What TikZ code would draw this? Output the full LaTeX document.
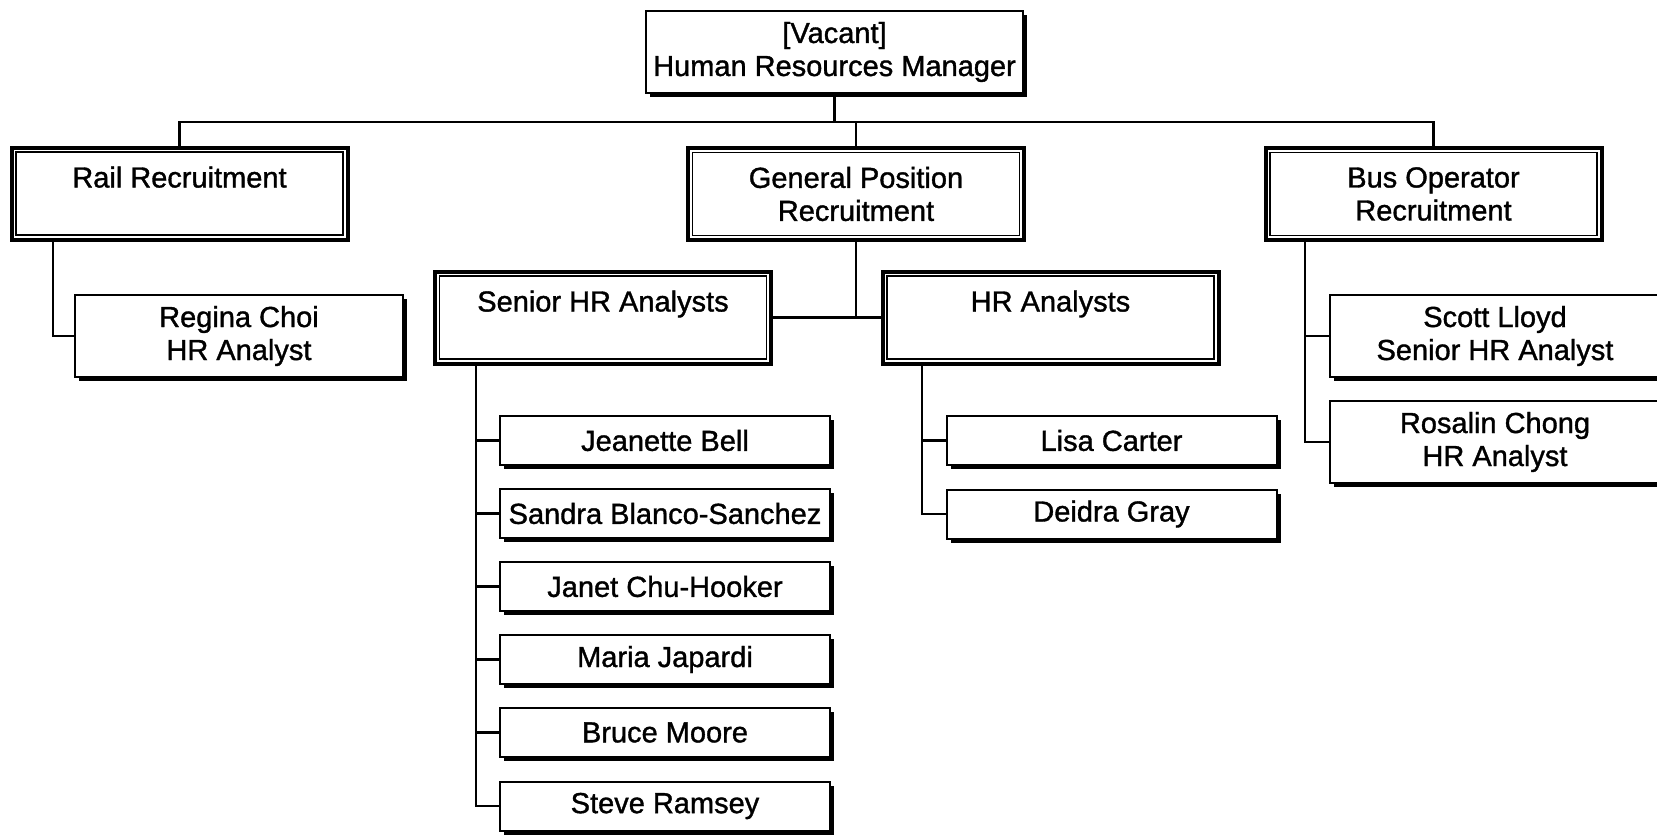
\documentclass[tikz,border=0pt]{standalone}
\usepackage{fontspec}
\setmainfont{Liberation Sans}[FakeBold=1.2]
\usetikzlibrary{shadows}
\tikzset{
  base/.style={font=\fontsize{29}{33}\selectfont, align=center, inner sep=0pt},
  pbox/.style={base, draw, line width=2pt, fill=white,
    drop shadow={shadow xshift=4pt, shadow yshift=-4pt, fill=black, opacity=1},
    minimum width=330pt, minimum height=49pt},
  grp/.style={base, draw, line width=4pt, fill=white,
    drop shadow={shadow xshift=2pt, shadow yshift=-2pt, fill=black, opacity=1},
    minimum width=336pt, minimum height=92pt},
  conn/.style={line width=2.2pt},
  inner/.style={line width=1.6pt},
}
\begin{document}
\begin{tikzpicture}[x=1pt,y=-1pt]
\useasboundingbox (0,0) rectangle (1657,838);
\clip (0,0) rectangle (1657,838);
\fill[white] (0,0) rectangle (1657,838);

% nodes
\node[pbox, minimum width=377pt, minimum height=82pt] (top) at (834.5,52) {[Vacant]\\Human Resources Manager};
\node[grp] (rail) at (179.5,193.5) {Rail Recruitment\\~};
\node[grp] (gen) at (856,194) {General Position\\Recruitment};
\node[grp] (bus) at (1433.5,194) {Bus Operator\\Recruitment};
\node[pbox, minimum width=328pt, minimum height=82pt] (regina) at (239,336) {Regina Choi\\HR Analyst};
\node[grp] (senior) at (603,317.5) {Senior HR Analysts\\~};
\node[grp] (hr) at (1050.5,317.5) {HR Analysts\\~};

\node[pbox] (jb) at (665,440.5) {Jeanette Bell};
\node[pbox] (sb) at (665,513.5) {Sandra Blanco-Sanchez};
\node[pbox] (jc) at (665,586.5) {Janet Chu-Hooker};
\node[pbox] (mj) at (665,659.5) {Maria Japardi};
\node[pbox] (bm) at (665,732.5) {Bruce Moore};
\node[pbox] (sr) at (665,806) {Steve Ramsey};

\node[pbox] (lc) at (1111.5,440.5) {Lisa Carter};
\node[pbox] (dg) at (1111.5,514) {Deidra Gray};

\node[pbox, minimum height=82pt] (sl) at (1495,336) {Scott Lloyd\\Senior HR Analyst};
\node[pbox, minimum height=82pt] (rc) at (1495,442) {Rosalin Chong\\HR Analyst};

% inner frames of group boxes
\foreach \n in {rail,gen,bus,senior,hr}
  \draw[inner] ([shift={(6.5pt,-6.5pt)}]\n.north west) rectangle ([shift={(-6.5pt,6.5pt)}]\n.south east);

% connectors
\coordinate (hy) at (0,122);
\coordinate (rx) at (53,0);
\coordinate (sx) at (476,0);
\coordinate (hx) at (922,0);
\coordinate (bx) at (1305,0);

\draw[conn] (top.south) -- (top.south |- hy);
\draw[conn] (rail.north) -- (rail.north |- hy) -- (bus.north |- hy) -- (bus.north);
\draw[conn] (gen.north) -- (gen.north |- hy);

\draw[conn] (rail.south -| rx) |- (regina.west);

\draw[conn] (gen.south) -- (gen.south |- senior.east);
\draw[conn] (senior.east) -- (hr.west);

\foreach \e in {jb,sb,jc,mj,bm,sr}
  \draw[conn] (senior.south -| sx) |- (\e.west);

\foreach \e in {lc,dg}
  \draw[conn] (hr.south -| hx) |- (\e.west);

\foreach \e in {sl,rc}
  \draw[conn] (bus.south -| bx) |- (\e.west);
\end{tikzpicture}
\end{document}
